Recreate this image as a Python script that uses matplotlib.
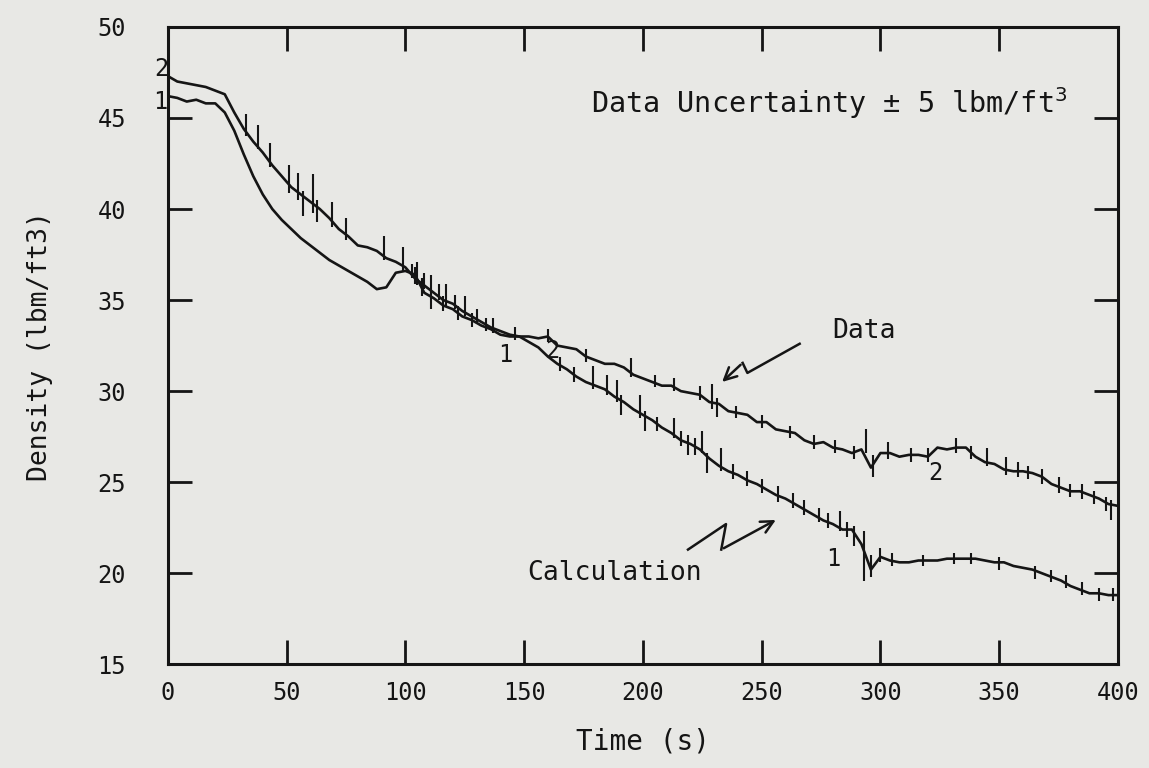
import matplotlib.pyplot as plt
import numpy as np

# readings every 4 s, 0..400 s
time_s = np.arange(0, 401, 4)

data_density = [
    47.3, 47.0, 46.9, 46.8, 46.7, 46.5, 46.3, 45.3, 44.4, 43.7,
    43.1, 42.4, 41.8, 41.2, 40.8, 40.4, 40.0, 39.5, 38.9, 38.5,
    38.0, 37.9, 37.7, 37.3, 37.1, 36.8, 36.2, 35.8, 35.4, 35.0,
    34.8, 34.4, 34.1, 33.8, 33.5, 33.3, 33.1, 33.0, 33.0, 32.9,
    33.0, 32.5, 32.4, 32.3, 31.9, 31.7, 31.5, 31.5, 31.3, 30.9,
    30.7, 30.5, 30.3, 30.3, 30.0, 29.9, 29.8, 29.4, 29.3, 28.9,
    28.8, 28.7, 28.3, 28.3, 27.9, 27.8, 27.7, 27.3, 27.1, 27.2,
    26.9, 26.8, 26.6, 26.8, 25.8, 26.6, 26.6, 26.4, 26.5, 26.5,
    26.4, 26.9, 26.8, 26.9, 26.9, 26.4, 26.1, 26.0, 25.7, 25.6,
    25.6, 25.5, 25.3, 24.9, 24.7, 24.5, 24.5, 24.3, 24.1, 23.8,
    23.7,
]

calc_density = [
    46.2, 46.1, 45.9, 46.0, 45.8, 45.8, 45.3, 44.3, 43.0, 41.8,
    40.8, 40.0, 39.4, 38.9, 38.4, 38.0, 37.6, 37.2, 36.9, 36.6,
    36.3, 36.0, 35.6, 35.7, 36.5, 36.6, 36.4, 35.4, 35.1, 34.7,
    34.5, 34.1, 33.9, 33.6, 33.4, 33.1, 33.0, 33.0, 32.7, 32.4,
    31.9, 31.5, 31.2, 30.8, 30.5, 30.3, 30.1, 29.7, 29.4, 29.0,
    28.7, 28.4, 28.0, 27.7, 27.3, 27.1, 26.8, 26.3, 25.9, 25.6,
    25.4, 25.1, 24.9, 24.6, 24.3, 24.1, 23.8, 23.5, 23.2, 22.9,
    22.7, 22.4, 22.4, 21.6, 20.2, 20.9, 20.7, 20.6, 20.6, 20.7,
    20.7, 20.7, 20.8, 20.8, 20.8, 20.8, 20.7, 20.6, 20.6, 20.4,
    20.3, 20.2, 20.0, 19.8, 19.6, 19.3, 19.1, 18.9, 18.9, 18.8,
    18.8,
]

# short vertical spikes on the plotter traces: time, low, high
data_spike_t = [33, 38, 43, 51, 55, 57, 61, 63, 69, 75, 91, 99, 103, 105, 108, 111, 114, 117,
                121, 125, 130, 137, 146, 160, 176, 195, 205, 213, 224, 229, 231, 239, 250, 262,
                272, 281, 289, 294, 297, 303, 313, 320, 332, 338, 345, 353, 358, 362, 368, 375,
                380, 385, 390, 395, 397]
data_spike_lo = [44.0, 43.3, 42.3, 40.9, 40.5, 39.6, 39.8, 39.3, 39.0, 38.3, 37.2, 36.6, 36.2, 35.8,
                 35.6, 35.2, 35.0, 34.7, 34.5, 34.1, 33.7, 33.2, 32.8, 32.7, 31.6, 30.8, 30.2, 30.0,
                 29.5, 29.0, 28.6, 28.5, 28.0, 27.4, 26.8, 26.6, 26.3, 26.6, 25.3, 26.3, 26.1, 26.1,
                 26.6, 26.3, 25.9, 25.4, 25.3, 25.2, 24.9, 24.4, 24.2, 24.1, 23.8, 23.4, 22.9]
data_spike_hi = [45.2, 44.6, 43.6, 42.4, 42.0, 41.0, 41.9, 40.5, 40.4, 39.5, 38.5, 37.9, 37.0, 37.1,
                 36.5, 36.4, 35.9, 35.9, 35.3, 35.2, 34.5, 34.0, 33.5, 33.4, 32.3, 31.8, 30.9, 30.7,
                 30.3, 30.4, 29.6, 29.2, 28.7, 28.1, 27.6, 27.3, 27.0, 27.9, 26.5, 27.2, 26.9, 26.9,
                 27.4, 27.0, 26.9, 26.4, 26.1, 25.9, 25.7, 25.3, 24.9, 24.9, 24.5, 24.2, 24.0]

calc_spike_t = [104, 107, 111, 116, 122, 128, 134, 165, 171, 179, 185, 189, 191, 199, 201, 206,
                213, 216, 219, 222, 225, 227, 233, 238, 244, 250, 257, 263, 268, 274, 278, 283,
                286, 289, 293, 296, 300, 305, 318, 331, 338, 350, 365, 372, 378, 385, 392, 398]
calc_spike_lo = [35.9, 35.2, 34.5, 34.4, 33.9, 33.5, 33.3, 31.1, 30.5, 30.1, 29.8, 29.4, 28.7, 28.5,
                 27.8, 27.8, 27.4, 27.0, 26.5, 26.5, 26.6, 25.5, 25.6, 25.2, 24.8, 24.4, 23.9, 23.6,
                 23.2, 22.8, 22.5, 22.3, 22.0, 21.5, 19.6, 19.8, 20.6, 20.4, 20.4, 20.5, 20.5, 20.2,
                 19.7, 19.5, 19.2, 18.8, 18.5, 18.5]
calc_spike_hi = [36.8, 36.2, 35.5, 35.2, 34.7, 34.3, 34.0, 31.9, 31.3, 31.4, 30.9, 30.6, 29.8, 29.8,
                 28.9, 28.6, 28.5, 27.8, 27.6, 27.4, 27.8, 26.6, 26.9, 26.0, 25.6, 25.2, 24.8, 24.4,
                 24.0, 23.6, 23.3, 23.4, 22.8, 22.6, 22.3, 21.0, 21.4, 21.1, 21.0, 21.1, 21.1, 20.9,
                 20.4, 20.2, 19.9, 19.5, 19.2, 19.2]

paper = "#e8e8e5"
ink = "#151515"
mono = "DejaVu Sans Mono"

fig = plt.figure(figsize=(11.49, 7.68), dpi=100, facecolor=paper)
ax = fig.add_axes([0.146, 0.135, 0.827, 0.83], facecolor=paper)

ax.plot(time_s, data_density, color=ink, lw=1.9)
ax.plot(time_s, calc_density, color=ink, lw=1.9)
ax.vlines(data_spike_t, data_spike_lo, data_spike_hi, color=ink, lw=1.5)
ax.vlines(calc_spike_t, calc_spike_lo, calc_spike_hi, color=ink, lw=1.5)

ax.set_xlim(0, 400)
ax.set_ylim(15, 50)
ax.set_xticks(np.arange(0, 401, 50))
ax.set_yticks(np.arange(15, 51, 5))
ax.tick_params(direction="in", length=17, width=2, color=ink,
               top=True, right=True, labelsize=17, labelcolor=ink)
ax.tick_params(axis="y", pad=30)
ax.tick_params(axis="x", pad=12)
for lab in ax.get_xticklabels() + ax.get_yticklabels():
    lab.set_family(mono)
for s in ax.spines.values():
    s.set_linewidth(2.2)
    s.set_color(ink)

ax.set_xlabel("Time (s)", family=mono, fontsize=20, color=ink, labelpad=16)
ax.set_ylabel("Density (lbm/ft3)", family=mono, fontsize=19, color=ink, labelpad=32)

ax.text(178, 45.8, "Data Uncertainty \u00b1 5 lbm/ft$^3$", family=mono, fontsize=20.5,
        color=ink, ha="left", va="center")
ax.text(293, 33.3, "Data", family=mono, fontsize=19, color=ink, ha="center", va="center")
ax.text(188, 20.0, "Calculation", family=mono, fontsize=19, color=ink, ha="center", va="center")

# zig-zag pointer arrows
ax.plot([266, 244, 242], [32.6, 31.0, 31.55], color=ink, lw=1.8)
ax.annotate("", xy=(232.5, 30.4), xytext=(242, 31.55),
            arrowprops=dict(arrowstyle="->", color=ink, lw=1.8, mutation_scale=22))
ax.plot([219, 235, 233], [21.3, 22.7, 21.3], color=ink, lw=1.8)
ax.annotate("", xy=(257, 23.0), xytext=(233, 21.3),
            arrowprops=dict(arrowstyle="->", color=ink, lw=1.8, mutation_scale=22))

# curve numbers
for x, y, s in [(-2.5, 47.7, "2"), (-3, 45.9, "1"), (142, 32.0, "1"), (162, 32.2, "2"),
                (323, 25.5, "2"), (280, 20.8, "1")]:
    ax.text(x, y, s, family=mono, fontsize=17, color=ink, ha="center", va="center", clip_on=False)

fig.savefig("out.png", dpi=100, facecolor=paper)
